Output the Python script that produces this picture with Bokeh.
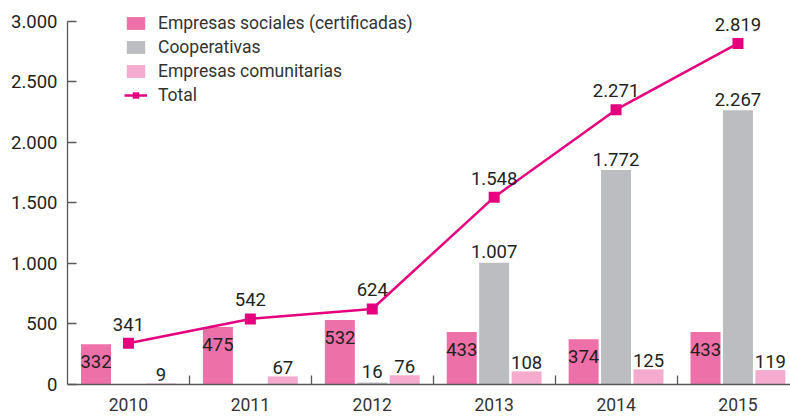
from bokeh.plotting import figure
from bokeh.models import (Range1d, FixedTicker, ColumnDataSource, Legend, LegendItem)
from bokeh.core.properties import value
from bokeh.embed import file_html
from bokeh.resources import INLINE

years = ["2010", "2011", "2012", "2013", "2014", "2015"]
social = [332, 475, 532, 433, 374, 433]
coop = [0, 0, 16, 1007, 1772, 2267]
community = [9, 67, 76, 108, 125, 119]
total = [341, 542, 624, 1548, 2271, 2819]

y_ticks = [0, 500, 1000, 1500, 2000, 2500, 3000]
y_tick_labels = ["0", "500", "1.000", "1.500", "2.000", "2.500", "3.000"]

series_names = ["Empresas sociales (certificadas)", "Cooperativas",
                "Empresas comunitarias", "Total"]

C_SOCIAL = "#EE70A8"
C_COOP = "#BCBDC0"
C_COMM = "#F4ABCD"
C_LINE = "#E6007E"
C_AXIS = "#58595B"
C_TEXT = "#231F20"
FONT = "Roboto"


def fmt(v):
    return f"{v:,}".replace(",", ".")


centers = [i + 0.5 for i in range(len(years))]
bounds = [i for i in range(1, len(years))]
BW = 0.246
OFF = 0.266

p = figure(width=790, height=416, x_range=Range1d(0, 5.931), y_range=Range1d(-264.5, 3066),
           output_backend="svg", toolbar_location=None,
           min_border_left=67, min_border_right=0, min_border_top=13, min_border_bottom=0)
p.outline_line_color = None
p.xgrid.visible = False
p.ygrid.visible = False
p.background_fill_color = "white"
p.border_fill_color = "white"

src = ColumnDataSource(dict(
    x=centers,
    xs=[c - OFF for c in centers],
    xc=[c + OFF for c in centers],
    zero=[0] * len(years),
    years=years,
    social=social, coop=coop, community=community, total=total,
    social_lbl=[fmt(v) for v in social],
    comm_lbl=[fmt(v) for v in community],
    total_lbl=[fmt(v) for v in total],
))

r_social = p.vbar(x="xs", top="social", width=BW, source=src, fill_color=C_SOCIAL, line_color=None)
r_coop = p.vbar(x="x", top="coop", width=BW, source=src, fill_color=C_COOP, line_color=None)
r_comm = p.vbar(x="xc", top="community", width=BW, source=src, fill_color=C_COMM, line_color=None)

r_line = p.line(x="x", y="total", source=src, line_color=C_LINE, line_width=2.5)
r_mark = p.scatter(x="x", y="total", source=src, marker="square", size=11,
                   fill_color=C_LINE, line_color=None)

# labels
p.text(x="xs", y="social", text="social_lbl", source=src, text_align="center",
       text_baseline="top", y_offset=11, text_font=value(FONT), text_font_size="18.5px",
       text_color=C_TEXT)

coop_x = [c for c, v in zip(centers, coop) if v > 0]
coop_v = [v for v in coop if v > 0]
coop_src = ColumnDataSource(dict(x=coop_x, y=coop_v, t=[fmt(v) for v in coop_v]))
p.text(x="x", y="y", text="t", source=coop_src, text_align="center",
       text_baseline="alphabetic", y_offset=-11, text_font=value(FONT), text_font_size="18.5px",
       text_color=C_TEXT)

p.text(x="xc", y="community", text="comm_lbl", source=src, text_align="center",
       text_baseline="alphabetic", y_offset=-9, text_font=value(FONT), text_font_size="18.5px",
       text_color=C_TEXT)

p.text(x="x", y="total", text="total_lbl", source=src, text_align="center",
       text_baseline="alphabetic", y_offset=-19, text_font=value(FONT), text_font_size="18.5px",
       text_color=C_TEXT)

# year labels below the zero line
p.text(x="x", y="zero", text="years", source=src, text_align="center",
       text_baseline="top", y_offset=14, text_font=value(FONT),
       text_font_size="17.5px", text_color="#333333")

# axes
xa = p.xaxis[0]
xa.fixed_location = 0
xa.ticker = FixedTicker(ticks=centers, minor_ticks=bounds)
xa.major_label_overrides = {c: "" for c in centers}
xa.major_label_text_font_size = "1px"
xa.major_label_standoff = 0
xa.major_tick_in = 0
xa.major_tick_out = 0
xa.minor_tick_in = 9
xa.minor_tick_out = 0
xa.minor_tick_line_color = C_AXIS
xa.minor_tick_line_width = 1.3
xa.axis_line_color = C_AXIS
xa.axis_line_width = 1.5

ya = p.yaxis[0]
ya.ticker = FixedTicker(ticks=y_ticks)
ya.bounds = (0, 3000)
ya.major_label_overrides = {t: l for t, l in zip(y_ticks, y_tick_labels)}
ya.major_tick_in = 9
ya.major_tick_out = 0
ya.major_tick_line_color = C_AXIS
ya.major_tick_line_width = 1.3
ya.minor_tick_line_color = None
ya.axis_line_color = C_AXIS
ya.axis_line_width = 1.3
ya.major_label_standoff = 10
ya.major_label_text_font = FONT
ya.major_label_text_font_size = "18.5px"
ya.major_label_text_color = C_TEXT

legend = Legend(items=[
    LegendItem(label=series_names[0], renderers=[r_social]),
    LegendItem(label=series_names[1], renderers=[r_coop]),
    LegendItem(label=series_names[2], renderers=[r_comm]),
    LegendItem(label=series_names[3], renderers=[r_line, r_mark]),
], location=(57, 311), orientation="vertical")
legend.background_fill_alpha = 0
legend.border_line_color = None
legend.padding = 0
legend.margin = 0
legend.spacing = 4
legend.glyph_width = 23
legend.glyph_height = 16
legend.label_standoff = 11
legend.label_text_font = FONT
legend.label_text_font_size = "17.5px"
legend.label_text_color = "#333333"
p.add_layout(legend)

open("out.html", "w").write(file_html(p, INLINE))
